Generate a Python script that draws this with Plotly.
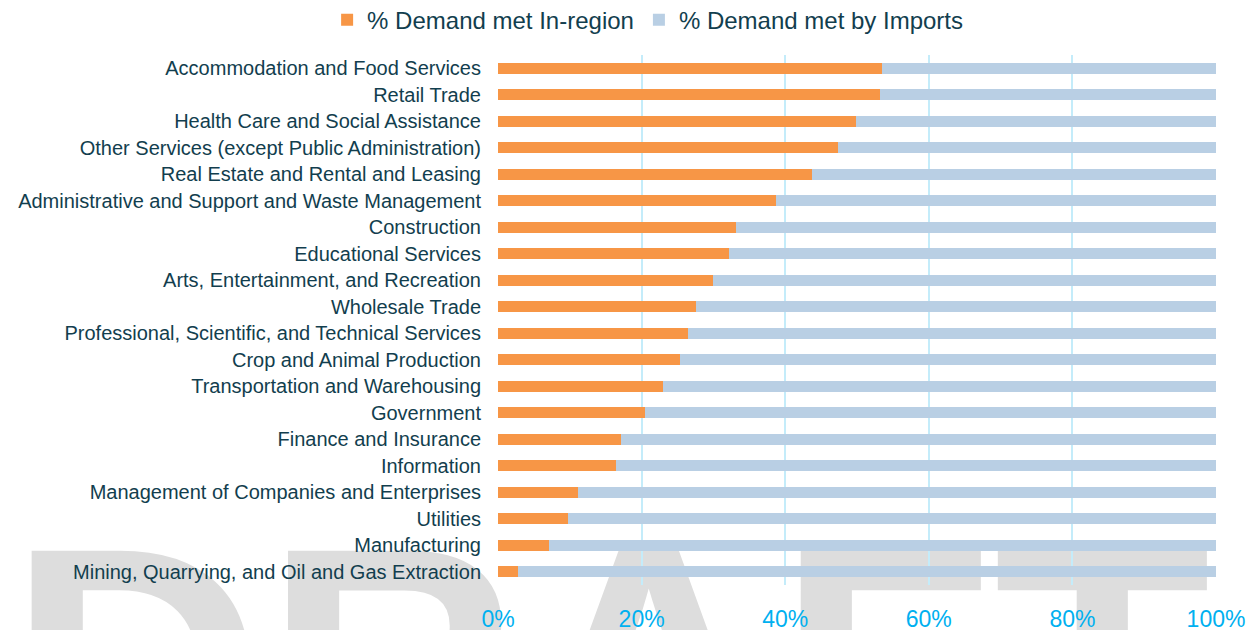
import plotly.graph_objects as go

categories = [
    "Accommodation and Food Services",
    "Retail Trade",
    "Health Care and Social Assistance",
    "Other Services (except Public Administration)",
    "Real Estate and Rental and Leasing",
    "Administrative and Support and Waste Management",
    "Construction",
    "Educational Services",
    "Arts, Entertainment, and Recreation",
    "Wholesale Trade",
    "Professional, Scientific, and Technical Services",
    "Crop and Animal Production",
    "Transportation and Warehousing",
    "Government",
    "Finance and Insurance",
    "Information",
    "Management of Companies and Enterprises",
    "Utilities",
    "Manufacturing",
    "Mining, Quarrying, and Oil and Gas Extraction",
]
in_region = [53.5, 53.2, 49.8, 47.4, 43.8, 38.7, 33.2, 32.2, 30.0, 27.6,
             26.5, 25.3, 23.0, 20.5, 17.1, 16.4, 11.1, 9.7, 7.1, 2.8]
imports = [round(100 - v, 1) for v in in_region]
tick_vals = [0, 20, 40, 60, 80, 100]
tick_text = ["0%", "20%", "40%", "60%", "80%", "100%"]
watermark = "DRAFT"

LABEL = "#123E4E"
ORANGE = "#F79646"
BLUE = "#B9CFE4"
FONT = "Arial, Liberation Sans, sans-serif"

fig = go.Figure()

# watermark on the first (lowest) subplot so that the chart draws above it
fig.add_trace(go.Scatter(
    x=[0.155], y=[0.106], mode="text", text=[watermark],
    textposition="bottom center",
    textfont=dict(family=FONT, size=355, color="#DDDDDD", weight="bold"),
    cliponaxis=False, showlegend=False, hoverinfo="skip",
    xaxis="x", yaxis="y",
))

fig.add_trace(go.Bar(
    y=categories, x=in_region, orientation="h", name="% Demand met In-region",
    marker=dict(color=ORANGE, line=dict(width=0)), xaxis="x2", yaxis="y2",
))
fig.add_trace(go.Bar(
    y=categories, x=imports, orientation="h", name="% Demand met by Imports",
    marker=dict(color=BLUE, line=dict(width=0)), xaxis="x2", yaxis="y2",
))

fig.update_layout(
    width=1252, height=622,
    margin=dict(l=490, r=44, t=47, b=45, autoexpand=False),
    paper_bgcolor="white", plot_bgcolor="rgba(0,0,0,0)",
    barmode="stack", bargap=0.585,
    font=dict(family=FONT, color=LABEL),
    xaxis=dict(domain=[0, 1], range=[0, 1], visible=False, fixedrange=True),
    yaxis=dict(domain=[0, 1], range=[0, 1], visible=False, fixedrange=True),
    xaxis2=dict(
        domain=[0, 1], anchor="y2", range=[0, 100],
        tickvals=tick_vals, ticktext=tick_text,
        tickfont=dict(size=23, color="#00B0F0"),
        showgrid=True, gridcolor="#C4ECFA", gridwidth=1.5,
        zeroline=False, showline=False, ticks="", ticklabelstandoff=18,
        automargin=False,
    ),
    yaxis2=dict(
        domain=[0, 1], anchor="x2", autorange="reversed",
        tickfont=dict(size=20, color=LABEL),
        showgrid=False, zeroline=False, showline=False, ticks="",
        ticklabelstandoff=16, automargin=False,
    ),
    legend=dict(
        orientation="h", x=-0.238, xanchor="left", y=1.108, yanchor="top",
        font=dict(size=24, color=LABEL), traceorder="normal",
        bgcolor="rgba(0,0,0,0)",
    ),
)

fig.write_html("out.html")
